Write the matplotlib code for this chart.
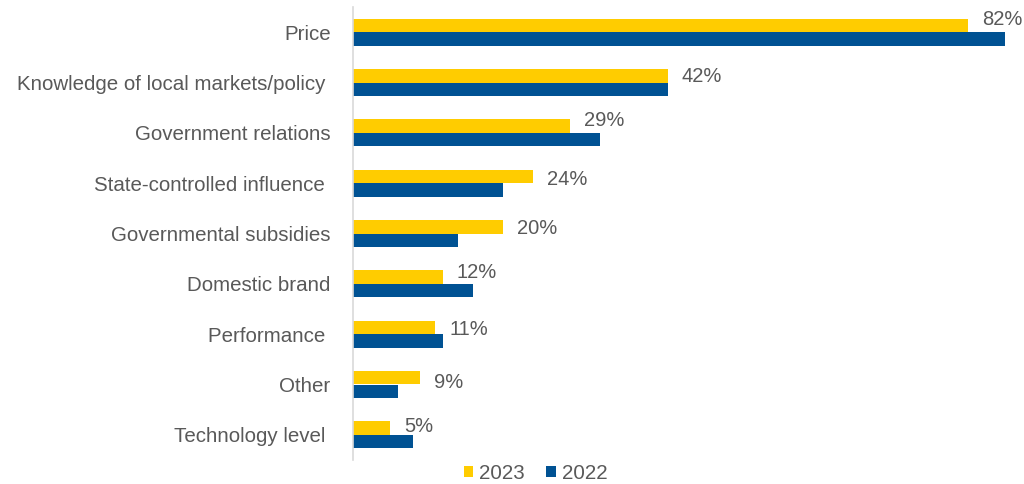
import matplotlib
matplotlib.use("Agg")
import matplotlib.pyplot as plt
from matplotlib.patches import Patch

plt.rcParams['font.family'] = ['Liberation Sans', 'DejaVu Sans']

categories = [
    "Price",
    "Knowledge of local markets/policy ",
    "Government relations",
    "State-controlled influence ",
    "Governmental subsidies",
    "Domestic brand",
    "Performance ",
    "Other",
    "Technology level ",
]
values_2023 = [82, 42, 29, 24, 20, 12, 11, 9, 5]
values_2022 = [87, 42, 33, 20, 14, 16, 12, 6, 8]
series_names = ["2023", "2022"]

# small vertical nudges (points) for the value labels
label_nudge = [4, -0.7, 4, -2.5, -1.4, 3.2, -1.4, -3.4, 1.4]

YELLOW = "#FFCC00"
BLUE = "#005293"
TEXT = "#595959"
AXIS = "#D9D9D9"

fig = plt.figure(figsize=(10.24, 4.84), dpi=100)
ax = fig.add_axes([352.5 / 1024, 24 / 484, 668 / 1024, 453 / 484])

n = len(categories)
pos = list(range(n))
h = 0.268
ax.barh([p - h / 2 for p in pos], values_2023, height=h, color=YELLOW, linewidth=0)
ax.barh([p + h / 2 for p in pos], values_2022, height=h, color=BLUE, linewidth=0)

for p, v, dy in zip(pos, values_2023, label_nudge):
    ax.annotate(f"{v}%", xy=(v, p - h / 2), xytext=(10.2, dy),
                textcoords="offset points", ha="left", va="center",
                fontsize=14.5, color=TEXT)

ax.set_xlim(0, 89)
ax.set_ylim(n - 0.5, -0.5)
ax.set_yticks(pos)
ax.set_yticklabels(categories, fontsize=14.8, color=TEXT)
ax.tick_params(axis="y", length=0, pad=15.7)
ax.set_xticks([])
for s in ["top", "right", "bottom"]:
    ax.spines[s].set_visible(False)
ax.spines["left"].set_color(AXIS)
ax.spines["left"].set_linewidth(1.2)

handles = [Patch(facecolor=YELLOW, edgecolor="none"),
           Patch(facecolor=BLUE, edgecolor="none")]
fig.legend(handles, series_names, loc="center", bbox_to_anchor=(0.523, 0.022),
           ncol=2, frameon=False, fontsize=14.8, labelcolor=TEXT,
           handlelength=0.45, handleheight=0.45, handletextpad=0.3,
           columnspacing=1.05)

fig.savefig("out.png", dpi=100, facecolor="white")
